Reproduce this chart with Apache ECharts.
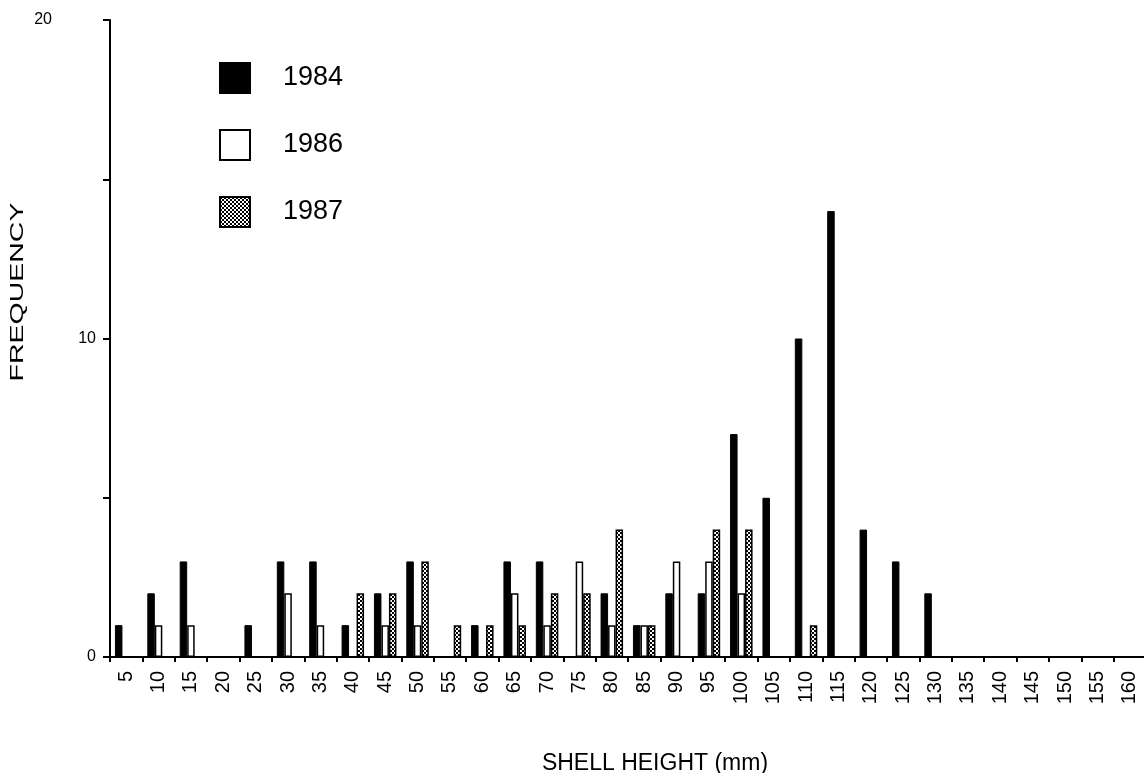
<!DOCTYPE html>
<html>
<head>
<meta charset="utf-8">
<title>Shell height frequency</title>
<script src="https://cdn.jsdelivr.net/npm/echarts@6/dist/echarts.min.js"></script>
<style>
  html, body { margin: 0; padding: 0; background: #fff; }
  #chart { width: 1144px; height: 773px; }
</style>
</head>
<body>
<div id="chart"></div>
<script>
// Shell height classes (mm)
const sizeClasses = ['5','10','15','20','25','30','35','40','45','50','55','60','65','70','75','80',
  '85','90','95','100','105','110','115','120','125','130','135','140','145','150','155','160'];

// Frequency per class for each survey year
const freq1984 = [1,2,3,0,1,3,3,1,2,3,0,1,3,3,0,2,1,2,2,7,5,10,14,4,3,2,0,0,0,0,0,0];
const freq1986 = [0,1,1,0,0,2,1,0,1,1,0,0,2,1,3,1,1,3,3,2,0,0,0,0,0,0,0,0,0,0,0,0];
const freq1987 = [0,0,0,0,0,0,0,2,2,3,1,1,1,2,2,4,1,0,4,4,0,1,0,0,0,0,0,0,0,0,0,0];

const yearNames = ['1984', '1986', '1987'];
const yTicks = [0, 10, 20];

const FONT = "'Liberation Sans', Arial, Helvetica, sans-serif";

// fine checker used as the 1987 fill
function checkerPattern() {
  const c = document.createElement('canvas');
  c.width = 4; c.height = 4;
  const g = c.getContext('2d');
  g.fillStyle = '#fff';
  g.fillRect(0, 0, 4, 4);
  g.fillStyle = '#000';
  g.fillRect(0, 0, 2, 2);
  g.fillRect(2, 2, 2, 2);
  return c;
}

const chart = echarts.init(document.getElementById('chart'), null, { renderer: 'canvas' });

const barBase = {
  type: 'bar',
  barWidth: 7.5,
  barGap: '0%',
  animation: false,
  emphasis: { disabled: true }
};

chart.setOption({
  backgroundColor: '#ffffff',
  animation: false,
  grid: { left: 110, right: -2, top: 20, bottom: 116, containLabel: false, outerBoundsMode: 'none' },
  legend: {
    orient: 'vertical',
    left: 214,
    top: 57,
    icon: 'rect',
    itemWidth: 30,
    itemHeight: 30,
    itemGap: 35,
    data: yearNames,
    textStyle: { fontFamily: FONT, fontSize: 27, color: '#000', padding: [0, 0, 0, 28] },
    selectedMode: false
  },
  xAxis: {
    type: 'category',
    data: sizeClasses,
    boundaryGap: true,
    axisLine: { show: true, lineStyle: { color: '#000', width: 2 } },
    axisTick: { show: true, interval: 0, length: 5, lineStyle: { color: '#000', width: 2 } },
    axisLabel: {
      interval: 0,
      rotate: 90,
      margin: 14,
      fontFamily: FONT,
      fontSize: 20,
      color: '#000'
    },
    name: 'SHELL HEIGHT (mm)',
    nameLocation: 'middle',
    nameGap: 95,
    nameTextStyle: { fontFamily: FONT, fontSize: 23, color: '#000', padding: [0, 0, 0, 54] }
  },
  yAxis: {
    type: 'value',
    min: 0,
    max: 20,
    interval: 5,
    splitLine: { show: false },
    axisLine: { show: true, lineStyle: { color: '#000', width: 2 } },
    axisTick: { show: true, length: 7, lineStyle: { color: '#000', width: 2 } },
    axisLabel: {
      margin: 14,
      fontFamily: FONT,
      fontSize: 16,
      color: '#000',
      formatter: function (v) {
        if (yTicks.indexOf(v) < 0) return '';
        return v === 20 ? '{top|' + v + '}' : '{std|' + v + '}';
      },
      rich: {
        top: { fontFamily: FONT, fontSize: 16, color: '#000', padding: [0, 44, 0, 0] },
        std: { fontFamily: FONT, fontSize: 16, color: '#000' }
      }
    }
  },
  graphic: [{
    type: 'text',
    x: 18,
    y: 292,
    rotation: Math.PI / 2,
    scaleX: 1.5,
    style: {
      text: 'FREQUENCY',
      font: '19px ' + FONT,
      fill: '#000',
      textAlign: 'center',
      textVerticalAlign: 'middle'
    }
  }],
  series: [
    Object.assign({}, barBase, {
      name: yearNames[0],
      data: freq1984,
      itemStyle: { color: '#000', borderColor: '#000', borderWidth: 1 }
    }),
    Object.assign({}, barBase, {
      name: yearNames[1],
      data: freq1986,
      itemStyle: { color: '#fff', borderColor: '#000', borderWidth: 1.5 }
    }),
    Object.assign({}, barBase, {
      name: yearNames[2],
      data: freq1987,
      itemStyle: {
        color: { image: checkerPattern(), repeat: 'repeat' },
        borderColor: '#000',
        borderWidth: 1.5
      }
    })
  ]
});
</script>
</body>
</html>
